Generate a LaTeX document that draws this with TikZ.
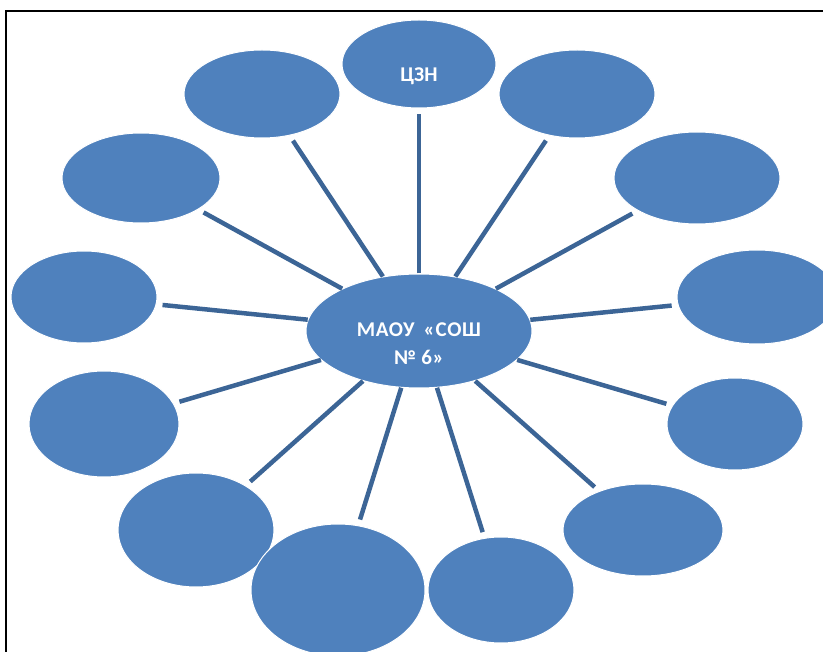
\documentclass[tikz,border=0pt]{standalone}
\usepackage{fontspec}
\newfontfamily\calibri{Carlito}
\usetikzlibrary{shapes.geometric}
\definecolor{partnerblue}{HTML}{4F81BD}
\definecolor{linkblue}{HTML}{3C6596}

\begin{document}
\begin{tikzpicture}[x=1pt,y=-1pt,
	partner/.style={shape=ellipse,fill=partnerblue,draw=white,line width=1pt,inner sep=0pt},
	lbl/.style={text=white,font=\calibri\bfseries\fontsize{21}{28}\selectfont,align=center},
	link/.style={draw=linkblue,line width=4.5pt,shorten >=6pt}]
					\clip (0,0) rectangle (823,652);
					% frame
					\draw [line width=2pt] (6,652) -- (6,11) -- (823,11);

					\node (czn) [partner,minimum width=154pt,minimum height=88pt,
						label={[lbl,yshift=-12pt]center:ЦЗН}] at (419,64) {};
					\node (tl) [partner,minimum width=156pt,minimum height=88pt] at (262,94) {};
					\node (tr) [partner,minimum width=156pt,minimum height=88pt] at (577,94) {};
					\node (ltwo) [partner,minimum width=158pt,minimum height=90pt] at (141,178) {};
					\node (rtwo) [partner,minimum width=166pt,minimum height=92pt] at (697,178) {};
					\node (lthree) [partner,minimum width=146pt,minimum height=92pt] at (84,297) {};
					\node (rthree) [partner,minimum width=160pt,minimum height=94pt] at (757,297) {};
					\node (lfour) [partner,minimum width=150pt,minimum height=106pt] at (104,424) {};
					\node (rfour) [partner,minimum width=136pt,minimum height=92pt] at (735,424) {};
					\node (lfive) [partner,minimum width=156pt,minimum height=114pt] at (196,530) {};
					\node (rfive) [partner,minimum width=160pt,minimum height=92pt] at (643,530) {};
					\node (bl) [partner,minimum width=174pt,minimum height=132pt] at (338,590) {};
					\node (br) [partner,minimum width=146pt,minimum height=106pt] at (501,590) {};

					\node (school) [partner,minimum width=226pt,minimum height=114pt,
						label={[lbl,yshift=-13pt]center:{\addfontfeature{LetterSpace=3}МАОУ\hspace{9pt}«СОШ}\\\addfontfeature{LetterSpace=3}№ 6»}] at (419,331) {};

					\path[link](school) edge (czn);
					\path[link](school) edge (tl);
					\path[link](school) edge (tr);
					\path[link](school) edge (ltwo);
					\path[link](school) edge (rtwo);
					\path[link](school) edge (lthree);
					\path[link](school) edge (rthree);
					\path[link](school) edge (lfour);
					\path[link](school) edge (rfour);
					\path[link](school) edge (lfive);
					\path[link](school) edge (rfive);
					\path[link](school) edge (bl);
					\path[link](school) edge (br);
\end{tikzpicture}
\end{document}
